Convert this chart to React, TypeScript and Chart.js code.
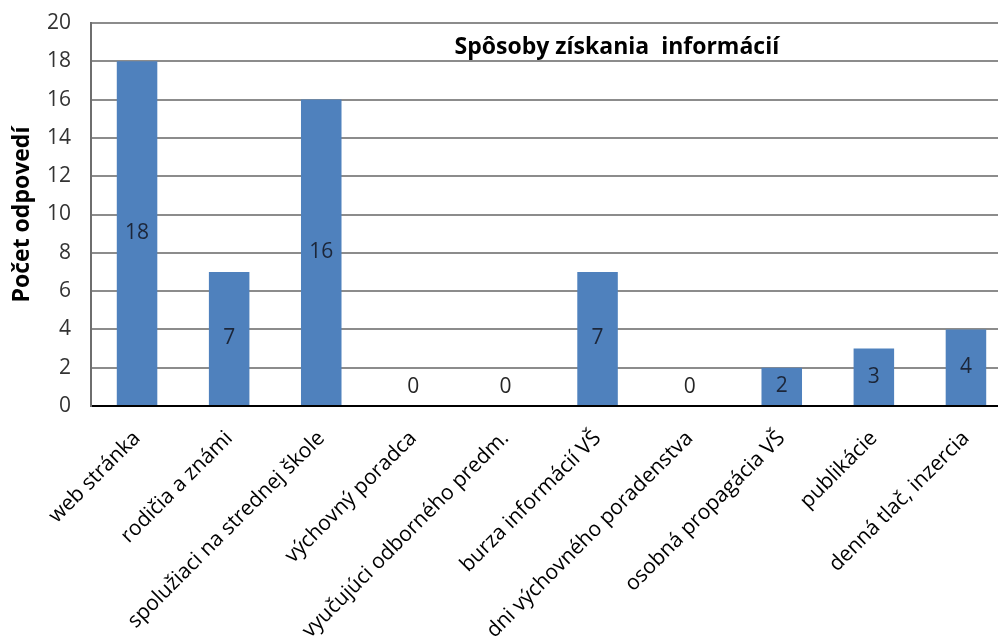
import React, { useEffect, useRef } from "react";
import { Chart, registerables } from "chart.js";

Chart.register(...registerables);

const categories = [
  "web stránka",
  "rodičia a známi",
  "spolužiaci na strednej škole",
  "výchovný poradca",
  "vyučujúci odborného predm.",
  "burza informácií VŠ",
  "dni výchovného poradenstva",
  "osobná propagácia VŠ",
  "publikácie",
  "denná tlač, inzercia",
];
const answers = [18, 7, 16, 0, 0, 7, 0, 2, 3, 4];
const yTicks = [0, 2, 4, 6, 8, 10, 12, 14, 16, 18, 20];
const chartTitle = "Spôsoby získania  informácií";
const yTitle = "Počet odpovedí";

const FONT = "'Open Sans', Lato, sans-serif";

const labelPlugin = {
  id: "barLabels",
  afterDatasetsDraw(chart: any) {
    const ctx = chart.ctx;
    const meta = chart.getDatasetMeta(0);
    ctx.save();
    ctx.font = `21px ${FONT}`;
    ctx.textAlign = "center";
    ctx.textBaseline = "middle";
    meta.data.forEach((bar: any, i: number) => {
      const v = answers[i];
      let y = (bar.y + bar.base) / 2;
      if (v === 0) y = bar.base - 19;
      ctx.fillStyle = v === 0 ? "#262626" : "#1c2639";
      ctx.fillText(String(v), bar.x, y);
    });
    ctx.restore();
  },
};

const titlePlugin = {
  id: "innerTitle",
  afterDraw(chart: any) {
    const { ctx, chartArea } = chart;
    ctx.save();
    ctx.font = `bold 23px ${FONT}`;
    ctx.fillStyle = "#000";
    ctx.textAlign = "center";
    ctx.textBaseline = "middle";
    const w = chartArea.right - chartArea.left;
    ctx.fillText(chartTitle, chartArea.left + w * 0.571, chartArea.top + 24);
    ctx.restore();
  },
};

export default function App() {
  const ref = useRef<HTMLCanvasElement>(null);
  useEffect(() => {
    if (!ref.current) return;
    const chart = new Chart(ref.current, {
      type: "bar",
      data: {
        labels: categories,
        datasets: [
          {
            data: answers,
            backgroundColor: "#4f81bd",
            borderWidth: 0,
            categoryPercentage: 1,
            barPercentage: 0.44,
          },
        ],
      },
      plugins: [labelPlugin, titlePlugin],
      options: {
        animation: false,
        responsive: false,
        maintainAspectRatio: false,
        devicePixelRatio: 1,
        layout: { padding: { left: 0, top: 23, right: 0, bottom: 0 } },
        plugins: {
          legend: { display: false },
          tooltip: { enabled: false },
          title: { display: false },
        },
        scales: {
          x: {
            afterFit(axis: any) {
              axis.height = 230;
              axis.paddingLeft = 0;
              axis.paddingRight = 0;
            },
            grid: { display: false, drawTicks: false },
            border: { color: "#000", width: 2 },
            ticks: {
              color: "#000",
              font: { family: FONT, size: 21 },
              maxRotation: 45,
              minRotation: 45,
              padding: 20,
              autoSkip: false,
            },
          },
          y: {
            min: 0,
            max: 20,
            afterFit(axis: any) {
              axis.width = 91;
              axis.paddingTop = 0;
              axis.paddingBottom = 0;
            },
            afterBuildTicks(axis: any) {
              axis.ticks = yTicks.map((v) => ({ value: v }));
            },
            grid: { color: "#8c8c8c", lineWidth: 2, drawTicks: false },
            border: { color: "#6e6e6e", width: 2 },
            ticks: {
              color: "#333",
              font: { family: FONT, size: 21 },
              padding: 20,
            },
            title: {
              display: true,
              text: yTitle,
              color: "#000",
              font: { family: FONT, size: 23, weight: "bold" },
              padding: { top: 9, bottom: 0 },
            },
          },
        },
      },
    });
    return () => chart.destroy();
  }, []);
  return (
    <div
      style={{
        position: "fixed",
        left: 0,
        top: 0,
        width: 998,
        height: 636,
        overflow: "hidden",
        background: "#fff",
      }}
    >
      <canvas ref={ref} width={1012} height={636} style={{ display: "block" }} />
    </div>
  );
}
